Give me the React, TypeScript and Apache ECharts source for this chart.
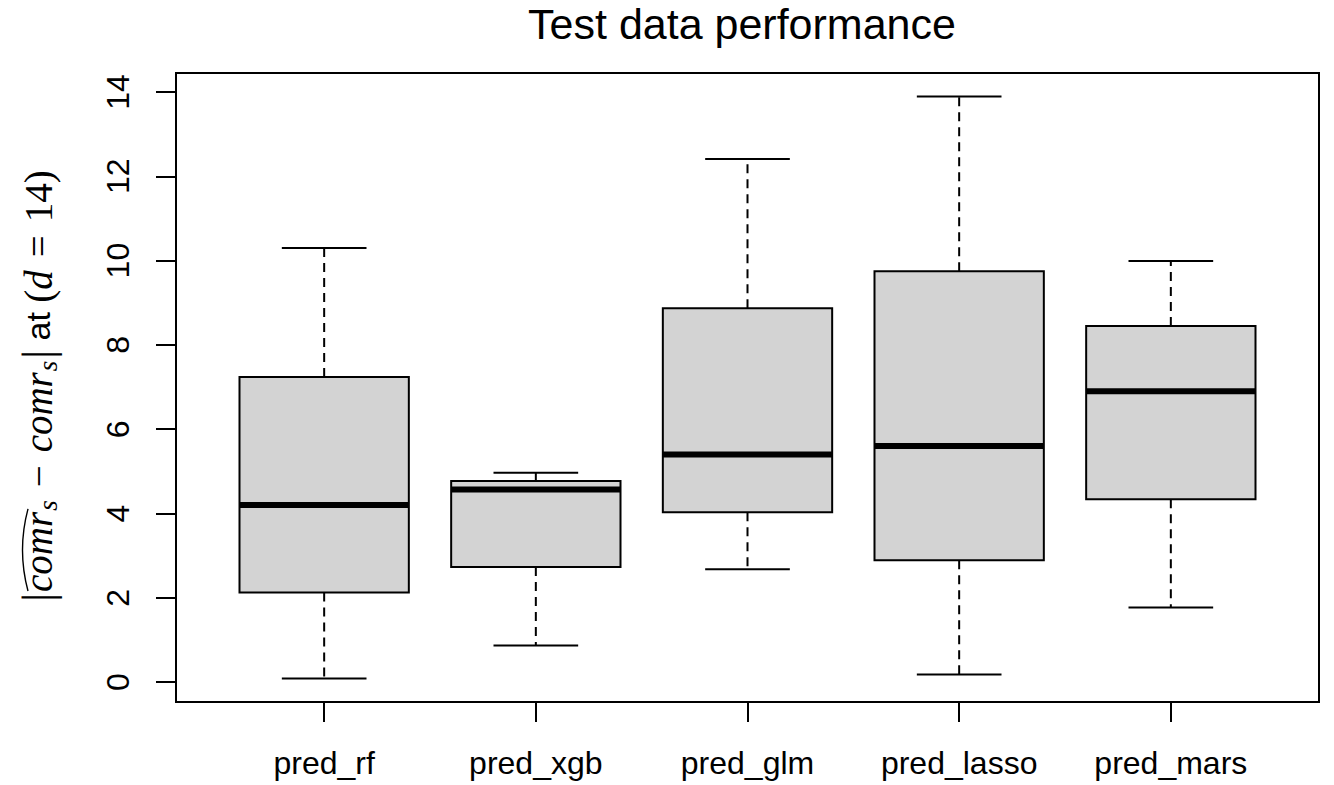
import React, { useEffect, useRef } from "react";
import * as echarts from "echarts";

const categories = ["pred_rf", "pred_xgb", "pred_glm", "pred_lasso", "pred_mars"];
const lowWhisker = [0.09, 0.87, 2.68, 0.18, 1.77];
const lowerQuartile = [2.13, 2.73, 4.03, 2.89, 4.34];
const medianValues = [4.2, 4.57, 5.4, 5.6, 6.9];
const upperQuartile = [7.24, 4.77, 8.87, 9.75, 8.45];
const highWhisker = [10.3, 4.97, 12.41, 13.89, 9.99];
const yTicks = [0, 2, 4, 6, 8, 10, 12, 14];
const xTicks = [1, 2, 3, 4, 5];

const SANS = "'Liberation Sans', Arial, Helvetica, sans-serif";
const SERIF = "'Liberation Serif', 'Times New Roman', serif";

function measure(text: string, font: string): number {
  const c = document.createElement("canvas");
  const ctx = c.getContext("2d");
  if (!ctx) return text.length * 16;
  ctx.font = font;
  return ctx.measureText(text).width;
}

function buildYTitle() {
  type Seg = {
    t: string;
    fam: string;
    size: number;
    italic?: boolean;
    sub?: boolean;
    hat?: boolean;
    padL?: number;
    padR?: number;
  };
  const M = 39;
  const S = 27;
  const OP = 13;
  const segs: Seg[] = [
    { t: "|", fam: SERIF, size: 44 },
    { t: "comr", fam: SERIF, size: M, italic: true, hat: true, padL: 1 },
    { t: "s", fam: SERIF, size: S, italic: true, sub: true, padL: 1 },
    { t: "\u2212", fam: SERIF, size: M, padL: OP, padR: OP },
    { t: "comr", fam: SERIF, size: M, italic: true },
    { t: "s", fam: SERIF, size: S, italic: true, sub: true, padL: 1 },
    { t: "|", fam: SERIF, size: 44, padL: 2 },
    { t: " at ", fam: SANS, size: 34 },
    { t: "(", fam: SERIF, size: M },
    { t: "d", fam: SERIF, size: M, italic: true },
    { t: "=", fam: SERIF, size: M, padL: OP, padR: OP },
    { t: "14", fam: SERIF, size: M },
    { t: ")", fam: SERIF, size: M },
  ];
  const widths = segs.map((s) =>
    measure(s.t, `${s.italic ? "italic " : ""}${s.size}px ${s.fam}`)
  );
  const total = segs.reduce((a, s, i) => a + widths[i] + (s.padL || 0) + (s.padR || 0), 0);
  let x = -total / 2;
  const children: any[] = [];
  segs.forEach((s, i) => {
    x += s.padL || 0;
    children.push({
      type: "text",
      x,
      y: s.sub ? 10 : 0,
      style: {
        text: s.t,
        fontSize: s.size,
        fontFamily: s.fam,
        fontStyle: s.italic ? "italic" : "normal",
        fill: "#000",
        align: "left",
        verticalAlign: "middle",
      },
    });
    if (s.hat) {
      const w = widths[i];
      children.push({
        type: "bezierCurve",
        shape: { x1: x + 1, y1: -10, x2: x + w + 3, y2: -10, cpx1: x + w / 2 + 2, cpy1: -21 },
        style: { stroke: "#000", lineWidth: 1.4, fill: null },
      });
    }
    x += widths[i] + (s.padR || 0);
  });
  return { type: "group", x: 38, y: 386, rotation: Math.PI / 2, children };
}

export default function App() {
  const ref = useRef<HTMLDivElement>(null);
  useEffect(() => {
    if (!ref.current) return;
    const chart = echarts.init(ref.current, null, { renderer: "svg" });
    const boxData = categories.map((_, i) => [
      xTicks[i],
      lowWhisker[i],
      lowerQuartile[i],
      medianValues[i],
      upperQuartile[i],
      highWhisker[i],
    ]);
    const option: any = {
      animation: false,
      backgroundColor: "#ffffff",
      grid: {
        left: 176,
        top: 73,
        right: 15,
        bottom: 83,
        show: true,
        borderColor: "#000",
        borderWidth: 2,
        backgroundColor: "transparent",
      },
      xAxis: {
        type: "value",
        min: 0.3,
        max: 5.7,
        axisLine: { show: false, onZero: false },
        splitLine: { show: false },
        axisTick: {
          show: true,
          customValues: xTicks,
          length: 20,
          lineStyle: { color: "#000", width: 2 },
        },
        axisLabel: {
          customValues: xTicks,
          formatter: (v: number) => categories[Math.round(v) - 1] ?? "",
          fontSize: 32,
          fontFamily: SANS,
          color: "#000",
          margin: 45,
          verticalAlign: "top",
        },
      },
      yAxis: {
        type: "value",
        min: -0.47,
        max: 14.45,
        axisLine: { show: false },
        splitLine: { show: false },
        axisTick: {
          show: true,
          customValues: yTicks,
          length: 20,
          lineStyle: { color: "#000", width: 2 },
        },
        axisLabel: {
          customValues: yTicks,
          rotate: 90,
          fontSize: 32,
          fontFamily: SANS,
          color: "#000",
          margin: 42,
        },
      },
      graphic: [
        {
          type: "text",
          x: 742,
          y: 24,
          style: {
            text: "Test data performance",
            fontSize: 43,
            fontFamily: SANS,
            fill: "#000",
            align: "center",
            verticalAlign: "middle",
          },
        },
        buildYTitle(),
      ],
      series: [
        {
          type: "custom",
          data: boxData,
          encode: { x: 0, y: [1, 2, 3, 4, 5] },
          renderItem: (params: any, api: any) => {
            const xv = api.value(0);
            const pLow = api.coord([xv, api.value(1)]);
            const pQ1 = api.coord([xv, api.value(2)]);
            const pMed = api.coord([xv, api.value(3)]);
            const pQ3 = api.coord([xv, api.value(4)]);
            const pHigh = api.coord([xv, api.value(5)]);
            const half = api.size([0.8, 0])[0] / 2;
            const capHalf = half / 2;
            const cx = pMed[0];
            const dash = { stroke: "#000", lineWidth: 2, lineDash: [9, 6] };
            const solid = { stroke: "#000", lineWidth: 2 };
            return {
              type: "group",
              children: [
                { type: "line", shape: { x1: cx, y1: pQ3[1], x2: cx, y2: pHigh[1] }, style: dash },
                { type: "line", shape: { x1: cx, y1: pQ1[1], x2: cx, y2: pLow[1] }, style: dash },
                { type: "line", shape: { x1: cx - capHalf, y1: pHigh[1], x2: cx + capHalf, y2: pHigh[1] }, style: solid },
                { type: "line", shape: { x1: cx - capHalf, y1: pLow[1], x2: cx + capHalf, y2: pLow[1] }, style: solid },
                {
                  type: "rect",
                  shape: { x: cx - half, y: pQ3[1], width: half * 2, height: pQ1[1] - pQ3[1] },
                  style: { fill: "#d3d3d3", stroke: "#000", lineWidth: 2 },
                },
                {
                  type: "line",
                  shape: { x1: cx - half, y1: pMed[1], x2: cx + half, y2: pMed[1] },
                  style: { stroke: "#000", lineWidth: 6 },
                },
              ],
            };
          },
        },
      ],
    };
    chart.setOption(option);
    return () => chart.dispose();
  }, []);
  return (
    <div
      ref={ref}
      style={{ position: "fixed", left: 0, top: 0, width: 1334, height: 785, background: "#fff" }}
    />
  );
}
